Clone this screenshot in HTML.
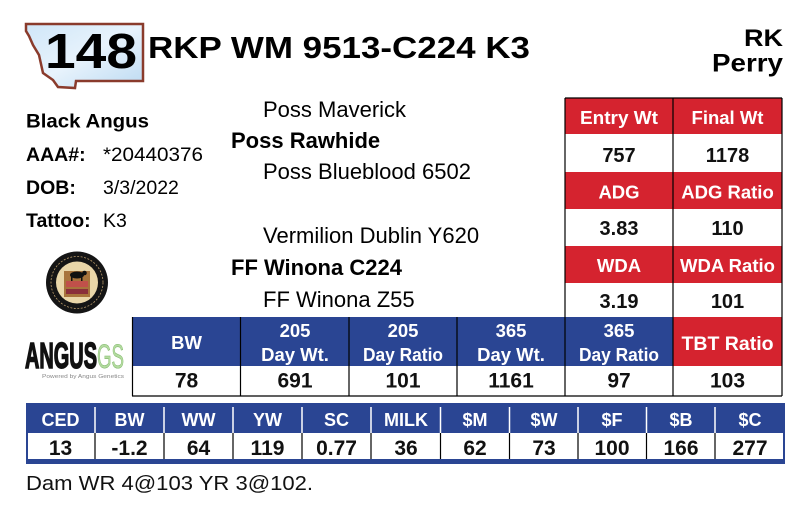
<!DOCTYPE html>
<html>
<head>
<meta charset="utf-8">
<style>
  html,body{margin:0;padding:0;background:#fff;}
  svg{display:block;}
  text{font-family:"Liberation Sans",Arial,sans-serif;}
</style>
</head>
<body>
<svg width="804" height="513" viewBox="0 0 804 513" xmlns="http://www.w3.org/2000/svg">
  <defs>
    <linearGradient id="mt" x1="0" y1="0" x2="1" y2="1">
      <stop offset="0" stop-color="#cfe6f8"/>
      <stop offset="0.5" stop-color="#e8f3fc"/>
      <stop offset="1" stop-color="#bcdaf2"/>
    </linearGradient>
  </defs>
  <rect width="804" height="513" fill="#fff"/>

  <!-- Montana shape -->
  <polygon points="26,24 143,24 143,81 76,81 75,88 58,87 53,80 43,73 41,64 39,55 33,45 29,36 26,31"
           fill="url(#mt)" stroke="#8a3b2c" stroke-width="2.5"/>
  <text x="45" y="68" font-size="49" font-weight="bold" fill="#000" textLength="92" lengthAdjust="spacingAndGlyphs">148</text>

  <!-- Title -->
  <text x="148" y="58" font-size="31" font-weight="bold" fill="#000" textLength="382" lengthAdjust="spacingAndGlyphs">RKP WM 9513-C224 K3</text>

  <!-- RK Perry -->
  <text x="783" y="46" font-size="24" font-weight="bold" text-anchor="end" textLength="39" lengthAdjust="spacingAndGlyphs">RK</text>
  <text x="783" y="71.5" font-size="25" font-weight="bold" text-anchor="end" textLength="71" lengthAdjust="spacingAndGlyphs">Perry</text>

  <!-- Left info -->
  <text x="26" y="127.5" font-size="19.5" font-weight="bold" textLength="123" lengthAdjust="spacingAndGlyphs">Black Angus</text>
  <text x="26" y="161" font-size="19.5" font-weight="bold">AAA#:</text>
  <text x="103" y="161" font-size="19.5" textLength="100" lengthAdjust="spacingAndGlyphs">*20440376</text>
  <text x="26" y="194" font-size="19.5" font-weight="bold">DOB:</text>
  <text x="103" y="194" font-size="19.5">3/3/2022</text>
  <text x="26" y="227" font-size="19.5" font-weight="bold">Tattoo:</text>
  <text x="103" y="227" font-size="19.5">K3</text>

  <!-- Seal logo -->
  <circle cx="77" cy="282.5" r="31" fill="#151515"/>
  <circle cx="77" cy="282.5" r="26" fill="none" stroke="#b89a6a" stroke-width="0.8" stroke-dasharray="2 1.5"/>
  <circle cx="77" cy="282.5" r="21" fill="#e9d6a8"/>
  <rect x="64" y="271" width="26" height="26" fill="#a8743c"/>
  <rect x="66" y="281" width="22" height="6" fill="#c0504a"/>
  <rect x="66" y="289" width="22" height="5" fill="#8a2f3a"/>
  <ellipse cx="77" cy="275" rx="7" ry="3.5" fill="#111"/>
  <rect x="71" y="276" width="1.5" height="5" fill="#111"/>
  <rect x="81" y="276" width="1.5" height="5" fill="#111"/>
  <circle cx="84.5" cy="273" r="2.3" fill="#111"/>

  <!-- Angus GS logo -->
  <text x="25" y="368" font-size="36" font-weight="bold" fill="#111" stroke="#111" stroke-width="1.6" textLength="72" lengthAdjust="spacingAndGlyphs">ANGUS</text>
  <text x="97" y="368" font-size="34" fill="#b4dba0" stroke="#7fb86a" stroke-width="0.6" textLength="27" lengthAdjust="spacingAndGlyphs">GS</text>
  <text x="42" y="378" font-size="5.5" fill="#888" textLength="82" lengthAdjust="spacingAndGlyphs">Powered by Angus Genetics</text>

  <!-- Pedigree -->
  <text x="263" y="117" font-size="22">Poss Maverick</text>
  <text x="231" y="148" font-size="22" font-weight="bold">Poss Rawhide</text>
  <text x="263" y="179" font-size="22">Poss Blueblood 6502</text>
  <text x="263" y="243" font-size="22">Vermilion Dublin Y620</text>
  <text x="231" y="275" font-size="22" font-weight="bold">FF Winona C224</text>
  <text x="263" y="307" font-size="22">FF Winona Z55</text>

  <!-- Red table -->
  <rect x="565" y="98" width="217" height="36" fill="#d5232f"/>
  <rect x="565" y="172" width="217" height="37" fill="#d5232f"/>
  <rect x="565" y="246" width="217" height="37" fill="#d5232f"/>
  <line x1="565" y1="98" x2="782" y2="98" stroke="#000" stroke-width="1.2"/>
  <line x1="565" y1="98" x2="565" y2="317" stroke="#000" stroke-width="1.2"/>
  <line x1="673" y1="98" x2="673" y2="317" stroke="#000" stroke-width="1.2"/>
  <line x1="782" y1="98" x2="782" y2="317" stroke="#000" stroke-width="1.2"/>
  <g font-weight="bold" text-anchor="middle">
    <text x="619" y="124" font-size="18.5" fill="#fff" textLength="78" lengthAdjust="spacingAndGlyphs">Entry Wt</text>
    <text x="727.5" y="124" font-size="18.5" fill="#fff">Final Wt</text>
    <text x="619" y="162" font-size="20" fill="#111">757</text>
    <text x="727.5" y="162" font-size="20" fill="#111">1178</text>
    <text x="619" y="198.5" font-size="18.5" fill="#fff">ADG</text>
    <text x="727.5" y="198.5" font-size="18.5" fill="#fff">ADG Ratio</text>
    <text x="619" y="235" font-size="20" fill="#111">3.83</text>
    <text x="727.5" y="235" font-size="20" fill="#111">110</text>
    <text x="619" y="272" font-size="18.5" fill="#fff">WDA</text>
    <text x="727.5" y="272" font-size="18.5" fill="#fff">WDA Ratio</text>
    <text x="619" y="308" font-size="20" fill="#111">3.19</text>
    <text x="727.5" y="308" font-size="20" fill="#111">101</text>
  </g>

  <!-- Blue table -->
  <rect x="132" y="317" width="541" height="49" fill="#2a4593"/>
  <rect x="673" y="317" width="109" height="49" fill="#d5232f"/>
  <rect x="132" y="366" width="650" height="30" fill="#fff"/>
  <g stroke="#000" stroke-width="1.2">
    <line x1="132.5" y1="317" x2="132.5" y2="396"/>
    <line x1="240.5" y1="317" x2="240.5" y2="396"/>
    <line x1="349" y1="317" x2="349" y2="396"/>
    <line x1="457" y1="317" x2="457" y2="396"/>
    <line x1="565" y1="317" x2="565" y2="396"/>
    <line x1="673" y1="317" x2="673" y2="396"/>
    <line x1="782" y1="317" x2="782" y2="396"/>
    <line x1="132" y1="396" x2="782" y2="396"/>
  </g>
  <g font-weight="bold" text-anchor="middle" fill="#fff" font-size="18.5">
    <text x="186.5" y="349" font-size="18.5">BW</text>
    <text x="295" y="337">205</text>
    <text x="295" y="361">Day Wt.</text>
    <text x="403" y="337">205</text>
    <text x="403" y="361" textLength="80" lengthAdjust="spacingAndGlyphs">Day Ratio</text>
    <text x="511" y="337">365</text>
    <text x="511" y="361">Day Wt.</text>
    <text x="619" y="337">365</text>
    <text x="619" y="361" textLength="80" lengthAdjust="spacingAndGlyphs">Day Ratio</text>
    <text x="727.5" y="350" font-size="19.5">TBT Ratio</text>
  </g>
  <g font-weight="bold" text-anchor="middle" fill="#111" font-size="21">
    <text x="186.5" y="387.5">78</text>
    <text x="295" y="387.5">691</text>
    <text x="403" y="387.5">101</text>
    <text x="511" y="387.5">1161</text>
    <text x="619" y="387.5">97</text>
    <text x="727.5" y="387.5">103</text>
  </g>

  <!-- Bottom EPD table -->
  <rect x="26" y="403" width="759" height="61" fill="#2a4593"/>
  <rect x="28" y="433" width="755" height="26" fill="#fff"/>
  <g stroke="#fff" stroke-width="1.5">
    <line x1="95" y1="407" x2="95" y2="433"/>
    <line x1="164" y1="407" x2="164" y2="433"/>
    <line x1="233" y1="407" x2="233" y2="433"/>
    <line x1="302" y1="407" x2="302" y2="433"/>
    <line x1="371" y1="407" x2="371" y2="433"/>
    <line x1="440.5" y1="407" x2="440.5" y2="433"/>
    <line x1="509.5" y1="407" x2="509.5" y2="433"/>
    <line x1="578" y1="407" x2="578" y2="433"/>
    <line x1="646.5" y1="407" x2="646.5" y2="433"/>
    <line x1="715" y1="407" x2="715" y2="433"/>
  </g>
  <g stroke="#000" stroke-width="1.2">
    <line x1="95" y1="433" x2="95" y2="459"/>
    <line x1="164" y1="433" x2="164" y2="459"/>
    <line x1="233" y1="433" x2="233" y2="459"/>
    <line x1="302" y1="433" x2="302" y2="459"/>
    <line x1="371" y1="433" x2="371" y2="459"/>
    <line x1="440.5" y1="433" x2="440.5" y2="459"/>
    <line x1="509.5" y1="433" x2="509.5" y2="459"/>
    <line x1="578" y1="433" x2="578" y2="459"/>
    <line x1="646.5" y1="433" x2="646.5" y2="459"/>
    <line x1="715" y1="433" x2="715" y2="459"/>
  </g>
  <g font-weight="bold" text-anchor="middle" fill="#fff" font-size="18">
    <text x="60.5" y="426">CED</text>
    <text x="129.5" y="426">BW</text>
    <text x="198.5" y="426">WW</text>
    <text x="267.5" y="426">YW</text>
    <text x="336.5" y="426">SC</text>
    <text x="406" y="426">MILK</text>
    <text x="475" y="426">$M</text>
    <text x="544" y="426">$W</text>
    <text x="612" y="426">$F</text>
    <text x="681" y="426">$B</text>
    <text x="750" y="426">$C</text>
  </g>
  <g font-weight="bold" text-anchor="middle" fill="#111" font-size="21">
    <text x="60.5" y="455">13</text>
    <text x="129.5" y="455">-1.2</text>
    <text x="198.5" y="455">64</text>
    <text x="267.5" y="455">119</text>
    <text x="336.5" y="455">0.77</text>
    <text x="406" y="455">36</text>
    <text x="475" y="455">62</text>
    <text x="544" y="455">73</text>
    <text x="612" y="455">100</text>
    <text x="681" y="455">166</text>
    <text x="750" y="455">277</text>
  </g>

  <!-- Footer -->
  <text x="26" y="490" font-size="20" fill="#111" textLength="287" lengthAdjust="spacingAndGlyphs">Dam WR 4@103 YR 3@102.</text>
</svg>
</body>
</html>
